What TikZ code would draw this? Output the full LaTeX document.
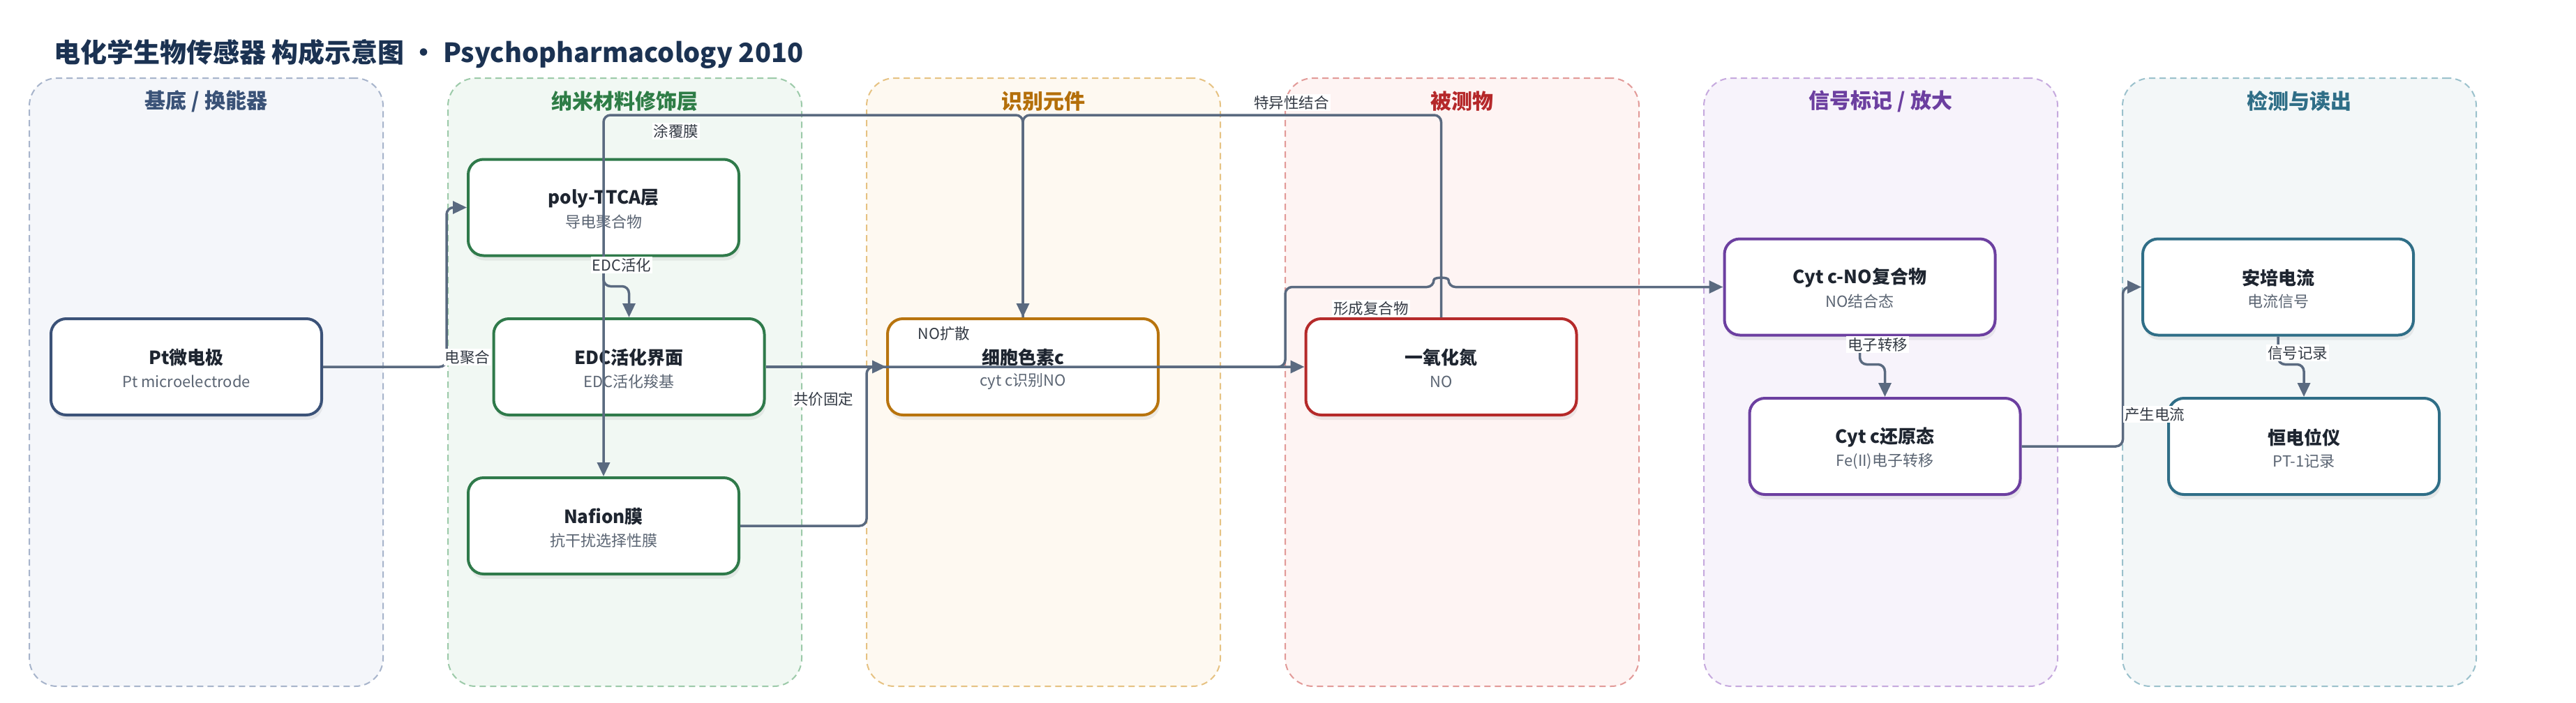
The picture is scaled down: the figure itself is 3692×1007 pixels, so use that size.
\documentclass[tikz,border=0pt]{standalone}
\usepackage{fontspec}
\setmainfont{Noto Sans CJK SC}
\usetikzlibrary{arrows.meta,shadows,calc}
\definecolor{edgec}{HTML}{5A6A80}
\definecolor{titlec}{HTML}{1B3252}
\definecolor{namec}{HTML}{1E2530}
\definecolor{subc}{HTML}{5B6573}
\definecolor{lblc}{HTML}{333A44}
\definecolor{fA}{HTML}{F4F6FA}\definecolor{dA}{HTML}{A7B4CB}\definecolor{tA}{HTML}{3A5277}\definecolor{bA}{HTML}{3B5278}
\definecolor{fB}{HTML}{F1F8F3}\definecolor{dB}{HTML}{9CCAA9}\definecolor{tB}{HTML}{2E7D46}\definecolor{bB}{HTML}{2F7A4A}
\definecolor{fC}{HTML}{FEF9F1}\definecolor{dC}{HTML}{E6C282}\definecolor{tC}{HTML}{B46F0A}\definecolor{bC}{HTML}{B8740E}
\definecolor{fD}{HTML}{FEF4F3}\definecolor{dD}{HTML}{E29A98}\definecolor{tD}{HTML}{B5282A}\definecolor{bD}{HTML}{B52A2A}
\definecolor{fE}{HTML}{F7F3FB}\definecolor{dE}{HTML}{C6A9DE}\definecolor{tE}{HTML}{6C3FA0}\definecolor{bE}{HTML}{6C3FA0}
\definecolor{fF}{HTML}{F3F7F8}\definecolor{dF}{HTML}{9BC1CC}\definecolor{tF}{HTML}{2F6E87}\definecolor{bF}{HTML}{2F6E87}
\tikzset{
  panelst/.style={rectangle, rounded corners=40pt, minimum width=507pt, minimum height=872pt,
    line width=2pt, dash pattern=on 9pt off 6pt},
  ptitle/.style={font=\fontsize{30}{36}\selectfont\bfseries, inner sep=0pt},
  boxst/.style={rectangle, rounded corners=22pt, minimum width=388pt, minimum height=138pt,
    line width=4pt, fill=white,
    drop shadow={shadow xshift=2pt, shadow yshift=-7pt, opacity=0.13}},
  nametxt/.style={font=\fontsize{26}{30}\selectfont\bfseries, text=namec, inner sep=0pt},
  subtxt/.style={font=\fontsize{22}{26}\selectfont, text=subc, inner sep=0pt},
  conn/.style={draw=edgec, line width=3.5pt, rounded corners=10pt, -{Triangle[length=20pt,width=18pt]}},
  elabel/.style={font=\fontsize{21.5}{25}\selectfont, text=lblc, fill=white, inner sep=2pt},
}
\newcommand\mkbox[5]{%
  \node[boxst, draw=#3] (#1) at (#2) {};
  \node[nametxt] (#1t) at ([yshift=13pt]#1.center) {#4};
  \node[subtxt] (#1s) at ([yshift=-21pt]#1.center) {#5};
}
\begin{document}
\begin{tikzpicture}[x=1pt,y=-1pt]
\useasboundingbox (0,0) rectangle (3692,1007);
\fill[white] (0,0) rectangle (3692,1007);

% title
\node[anchor=west, inner sep=0pt, font=\fontsize{38}{46}\selectfont\bfseries, text=titlec] (title) at (77,77)
  {电化学生物传感器 构成示意图 • Psychopharmacology 2010};

% panels
\node[panelst, fill=fA, draw=dA] (p1) at (295.5,548) {};
\node[panelst, fill=fB, draw=dB] (p2) at (895.5,548) {};
\node[panelst, fill=fC, draw=dC] (p3) at (1495.5,548) {};
\node[panelst, fill=fD, draw=dD] (p4) at (2095.5,548) {};
\node[panelst, fill=fE, draw=dE] (p5) at (2695.5,548) {};
\node[panelst, fill=fF, draw=dF] (p6) at (3295.5,548) {};
\node[ptitle, text=tA] (p1t) at (295.5,145) {基底 / 换能器};
\node[ptitle, text=tB] (p2t) at (895.5,145) {纳米材料修饰层};
\node[ptitle, text=tC] (p3t) at (1495.5,145) {识别元件};
\node[ptitle, text=tD] (p4t) at (2095.5,145) {被测物};
\node[ptitle, text=tE] (p5t) at (2695.5,145) {信号标记 / 放大};
\node[ptitle, text=tF] (p6t) at (3295.5,145) {检测与读出};

% nodes
\mkbox{pt}{267,526}{bA}{Pt微电极}{Pt microelectrode}
\mkbox{poly}{865,297.5}{bB}{poly-TTCA层}{导电聚合物}
\mkbox{edc}{901.5,526}{bB}{EDC活化界面}{EDC活化羧基}
\mkbox{naf}{865,754}{bB}{Nafion膜}{抗干扰选择性膜}
\mkbox{cytc}{1466,526}{bC}{细胞色素c}{cyt c识别NO}
\mkbox{no}{2065.5,526}{bD}{一氧化氮}{NO}
\mkbox{cno}{2665.5,411.5}{bE}{Cyt c-NO复合物}{NO结合态}
\mkbox{cred}{2701.5,640}{bE}{Cyt c还原态}{Fe(II)电子转移}
\mkbox{amp}{3265,411.5}{bF}{安培电流}{电流信号}
\mkbox{pot}{3302,640}{bF}{恒电位仪}{PT-1记录}

% connectors
\coordinate (topy) at (0,165);
\draw[conn] (pt.east) -- ++(177,0) |- (poly.west);
\draw[conn] (poly.south) -- ++(0,42) -| (edc.north);
\draw[conn] (cytc.north) -- (cytc.north |- topy) -| (naf.north);
\draw[conn] (no.north) -- (no.north |- topy) -| (cytc.north);
\draw[conn] (edc.east) -- (cytc.west);
\draw[conn] (naf.east) -- ++(181,0) |- (no.west);
\coordinate (hopa) at (2055,411.5);
\coordinate (hopb) at (2076,411.5);
\draw[conn] (cytc.east) -- ++(180,0) |- (hopa) .. controls (2055,397) and (2076,397) .. (hopb) -- (cno.west);
\draw[conn] (cno.south) -- ++(0,40) -| (cred.north);
\draw[conn] (cred.east) -- ++(145,0) |- (amp.west);
\draw[conn] (amp.south) -- ++(0,40) -| (pot.north);

% labels
\node[elabel] (l1) at (670,512) {电聚合};
\node[elabel] (l2) at (891,380) {EDC活化};
\node[elabel] (l3) at (969,188) {涂覆膜};
\node[elabel] (l4) at (1851,147) {特异性结合};
\node[elabel] (l5) at (1353,478) {NO扩散};
\node[elabel] (l6) at (1180,572) {共价固定};
\node[elabel] (l7) at (1965,442) {形成复合物};
\node[elabel] (l8) at (2691,494) {电子转移};
\node[elabel] (l9) at (3088,594) {产生电流};
\node[elabel] (l10) at (3293,506) {信号记录};
\end{tikzpicture}
\end{document}
